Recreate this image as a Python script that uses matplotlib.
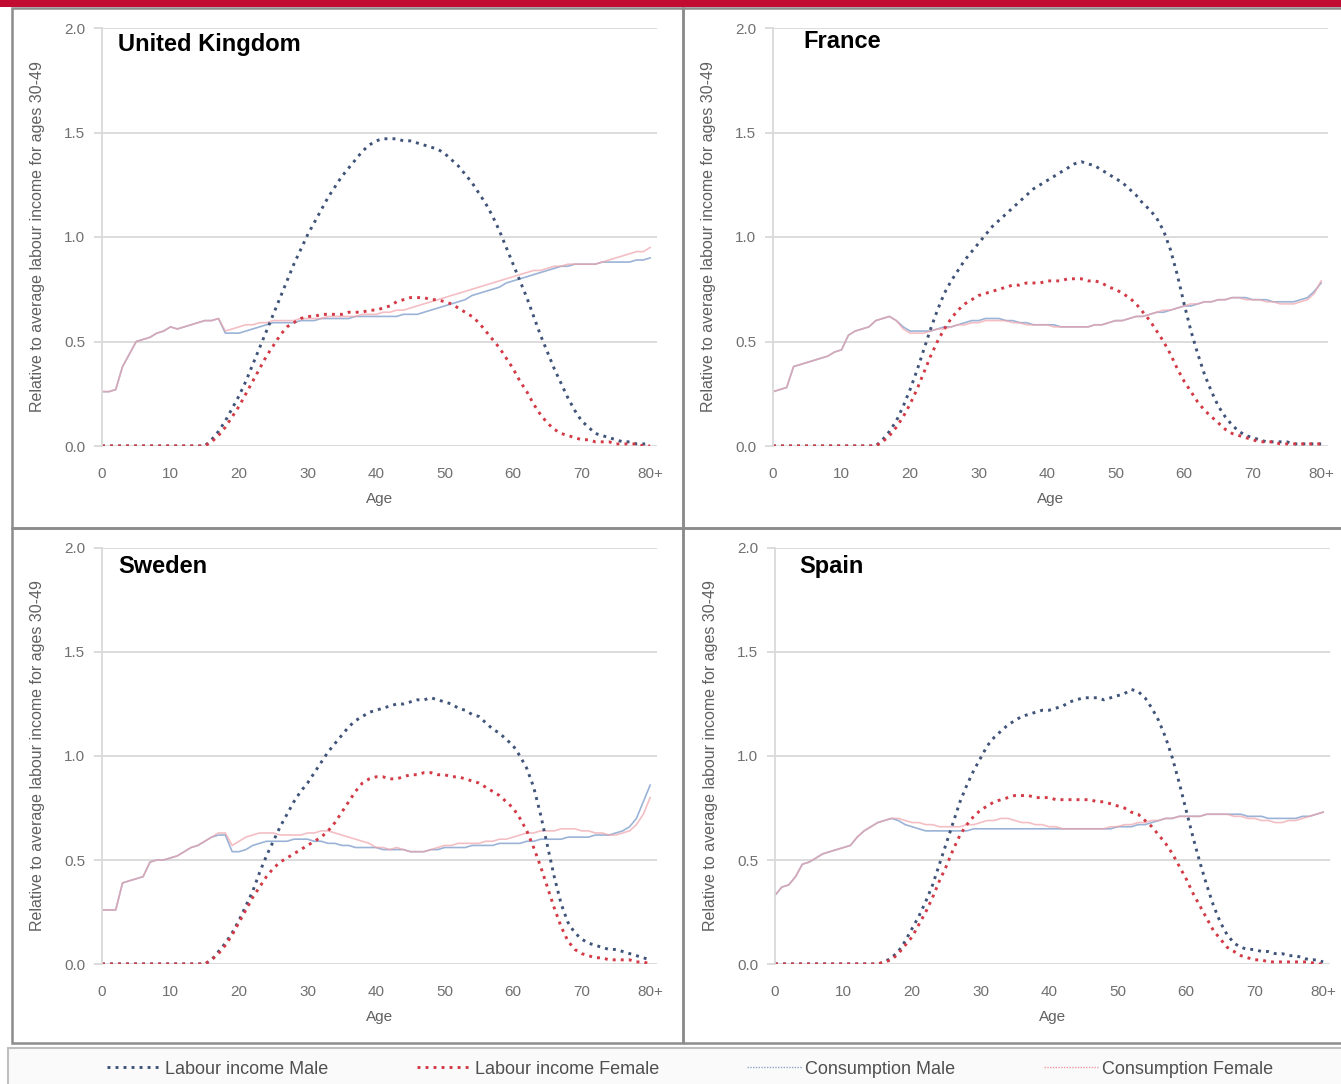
import matplotlib
matplotlib.use("Agg")
import matplotlib.pyplot as plt
from matplotlib.lines import Line2D
from matplotlib.patches import Rectangle

ages = list(range(0, 81))
x_tick_pos = [0, 10, 20, 30, 40, 50, 60, 70, 80]
x_tick_labels = ["0", "10", "20", "30", "40", "50", "60", "70", "80+"]
y_ticks = [0.0, 0.5, 1.0, 1.5, 2.0]
series_names = ["Labour income Male", "Labour income Female", "Consumption Male", "Consumption Female"]
countries = ["United Kingdom", "France", "Sweden", "Spain"]

zeros15 = [0.0] * 15

# ---------------- United Kingdom ----------------
uk_lab_m = zeros15 + [0.00, 0.03, 0.07, 0.12, 0.18, 0.24, 0.31, 0.39, 0.47, 0.55,
                      0.63, 0.71, 0.79, 0.87, 0.94, 1.01, 1.07, 1.13, 1.19, 1.24,
                      1.29, 1.33, 1.37, 1.41, 1.44, 1.46, 1.47, 1.47, 1.47, 1.46,
                      1.46, 1.45, 1.44, 1.43, 1.42, 1.40, 1.37, 1.34, 1.30, 1.26,
                      1.21, 1.16, 1.10, 1.03, 0.95, 0.87, 0.79, 0.71, 0.62, 0.53,
                      0.45, 0.37, 0.30, 0.23, 0.17, 0.12, 0.09, 0.06, 0.05, 0.04,
                      0.03, 0.02, 0.02, 0.01, 0.01, 0.01]
uk_lab_f = zeros15 + [0.00, 0.02, 0.05, 0.09, 0.14, 0.19, 0.25, 0.31, 0.37, 0.43,
                      0.48, 0.53, 0.57, 0.59, 0.61, 0.62, 0.62, 0.63, 0.63, 0.63,
                      0.63, 0.64, 0.64, 0.64, 0.65, 0.65, 0.66, 0.67, 0.69, 0.70,
                      0.71, 0.71, 0.71, 0.70, 0.70, 0.69, 0.68, 0.66, 0.64, 0.62,
                      0.59, 0.55, 0.51, 0.47, 0.42, 0.37, 0.31, 0.26, 0.20, 0.15,
                      0.11, 0.08, 0.06, 0.05, 0.04, 0.03, 0.03, 0.02, 0.02, 0.02,
                      0.01, 0.01, 0.01, 0.01, 0.00, 0.00]
uk_con_m = [0.26, 0.26, 0.27, 0.38, 0.44, 0.50, 0.51, 0.52, 0.54, 0.55,
            0.57, 0.56, 0.57, 0.58, 0.59, 0.60, 0.60, 0.61, 0.54, 0.54,
            0.54, 0.55, 0.56, 0.57, 0.58, 0.59, 0.59, 0.59, 0.59, 0.60,
            0.60, 0.60, 0.61, 0.61, 0.61, 0.61, 0.61, 0.62, 0.62, 0.62,
            0.62, 0.62, 0.62, 0.62, 0.63, 0.63, 0.63, 0.64, 0.65, 0.66,
            0.67, 0.68, 0.69, 0.70, 0.72, 0.73, 0.74, 0.75, 0.76, 0.78,
            0.79, 0.80, 0.81, 0.82, 0.83, 0.84, 0.85, 0.86, 0.86, 0.87,
            0.87, 0.87, 0.87, 0.88, 0.88, 0.88, 0.88, 0.88, 0.89, 0.89, 0.90]
uk_con_f = [0.26, 0.26, 0.27, 0.38, 0.44, 0.50, 0.51, 0.52, 0.54, 0.55,
            0.57, 0.56, 0.57, 0.58, 0.59, 0.60, 0.60, 0.61, 0.55, 0.56,
            0.57, 0.58, 0.58, 0.59, 0.59, 0.60, 0.60, 0.60, 0.60, 0.61,
            0.61, 0.61, 0.61, 0.62, 0.62, 0.62, 0.62, 0.62, 0.63, 0.63,
            0.63, 0.64, 0.64, 0.65, 0.65, 0.66, 0.67, 0.68, 0.69, 0.70,
            0.71, 0.72, 0.73, 0.74, 0.75, 0.76, 0.77, 0.78, 0.79, 0.80,
            0.81, 0.82, 0.83, 0.84, 0.84, 0.85, 0.86, 0.86, 0.87, 0.87,
            0.87, 0.87, 0.87, 0.88, 0.89, 0.90, 0.91, 0.92, 0.93, 0.93, 0.95]

# ---------------- France ----------------
fr_lab_m = zeros15 + [0.00, 0.03, 0.07, 0.12, 0.19, 0.27, 0.36, 0.46, 0.56, 0.65,
                      0.73, 0.79, 0.84, 0.89, 0.93, 0.97, 1.01, 1.05, 1.08, 1.11,
                      1.14, 1.17, 1.20, 1.23, 1.25, 1.27, 1.29, 1.31, 1.33, 1.35,
                      1.36, 1.35, 1.34, 1.32, 1.30, 1.28, 1.26, 1.23, 1.20, 1.16,
                      1.13, 1.09, 1.03, 0.94, 0.82, 0.68, 0.55, 0.44, 0.34, 0.26,
                      0.19, 0.14, 0.10, 0.07, 0.05, 0.04, 0.03, 0.02, 0.02, 0.02,
                      0.02, 0.01, 0.01, 0.01, 0.01, 0.01]
fr_lab_f = zeros15 + [0.00, 0.02, 0.05, 0.09, 0.14, 0.20, 0.27, 0.35, 0.43, 0.50,
                      0.56, 0.61, 0.65, 0.68, 0.70, 0.72, 0.73, 0.74, 0.75, 0.76,
                      0.77, 0.77, 0.78, 0.78, 0.78, 0.79, 0.79, 0.79, 0.80, 0.80,
                      0.80, 0.79, 0.79, 0.78, 0.76, 0.75, 0.73, 0.71, 0.68, 0.64,
                      0.60, 0.55, 0.50, 0.44, 0.37, 0.31, 0.26, 0.21, 0.17, 0.14,
                      0.11, 0.08, 0.06, 0.05, 0.04, 0.03, 0.02, 0.02, 0.02, 0.01,
                      0.01, 0.01, 0.01, 0.01, 0.01, 0.01]
fr_con_m = [0.26, 0.27, 0.28, 0.38, 0.39, 0.40, 0.41, 0.42, 0.43, 0.45,
            0.46, 0.53, 0.55, 0.56, 0.57, 0.60, 0.61, 0.62, 0.60, 0.57,
            0.55, 0.55, 0.55, 0.55, 0.56, 0.57, 0.57, 0.58, 0.59, 0.60,
            0.60, 0.61, 0.61, 0.61, 0.60, 0.60, 0.59, 0.59, 0.58, 0.58,
            0.58, 0.58, 0.57, 0.57, 0.57, 0.57, 0.57, 0.58, 0.58, 0.59,
            0.60, 0.60, 0.61, 0.62, 0.62, 0.63, 0.64, 0.64, 0.65, 0.66,
            0.67, 0.67, 0.68, 0.69, 0.69, 0.70, 0.70, 0.71, 0.71, 0.71,
            0.70, 0.70, 0.70, 0.69, 0.69, 0.69, 0.69, 0.70, 0.71, 0.74, 0.78]
fr_con_f = [0.26, 0.27, 0.28, 0.38, 0.39, 0.40, 0.41, 0.42, 0.43, 0.45,
            0.46, 0.53, 0.55, 0.56, 0.57, 0.60, 0.61, 0.62, 0.60, 0.56,
            0.54, 0.54, 0.54, 0.55, 0.56, 0.56, 0.57, 0.58, 0.58, 0.59,
            0.59, 0.60, 0.60, 0.60, 0.60, 0.59, 0.59, 0.58, 0.58, 0.58,
            0.58, 0.57, 0.57, 0.57, 0.57, 0.57, 0.57, 0.58, 0.58, 0.59,
            0.60, 0.60, 0.61, 0.62, 0.62, 0.63, 0.64, 0.65, 0.65, 0.66,
            0.67, 0.68, 0.68, 0.69, 0.69, 0.70, 0.70, 0.71, 0.71, 0.70,
            0.70, 0.70, 0.69, 0.69, 0.68, 0.68, 0.68, 0.69, 0.70, 0.73, 0.79]

# ---------------- Sweden ----------------
se_lab_m = zeros15 + [0.00, 0.02, 0.06, 0.10, 0.15, 0.21, 0.28, 0.35, 0.44, 0.52,
                      0.59, 0.66, 0.72, 0.78, 0.83, 0.87, 0.92, 0.97, 1.02, 1.06,
                      1.10, 1.14, 1.17, 1.19, 1.21, 1.22, 1.23, 1.24, 1.25, 1.25,
                      1.26, 1.27, 1.27, 1.28, 1.27, 1.26, 1.25, 1.23, 1.22, 1.20,
                      1.19, 1.16, 1.13, 1.11, 1.08, 1.05, 1.00, 0.94, 0.85, 0.72,
                      0.57, 0.42, 0.29, 0.20, 0.15, 0.12, 0.10, 0.09, 0.08, 0.07,
                      0.07, 0.06, 0.05, 0.04, 0.03, 0.02]
se_lab_f = zeros15 + [0.00, 0.02, 0.05, 0.09, 0.14, 0.20, 0.26, 0.32, 0.37, 0.42,
                      0.46, 0.49, 0.51, 0.53, 0.55, 0.57, 0.59, 0.61, 0.64, 0.68,
                      0.73, 0.78, 0.83, 0.87, 0.89, 0.90, 0.90, 0.89, 0.89, 0.90,
                      0.91, 0.91, 0.92, 0.92, 0.91, 0.91, 0.90, 0.90, 0.89, 0.88,
                      0.87, 0.85, 0.83, 0.81, 0.78, 0.75, 0.70, 0.64, 0.56, 0.47,
                      0.37, 0.27, 0.18, 0.11, 0.07, 0.05, 0.04, 0.03, 0.03, 0.02,
                      0.02, 0.02, 0.02, 0.01, 0.01, 0.00]
se_con_m = [0.26, 0.26, 0.26, 0.39, 0.40, 0.41, 0.42, 0.49, 0.50, 0.50,
            0.51, 0.52, 0.54, 0.56, 0.57, 0.59, 0.61, 0.62, 0.62, 0.54,
            0.54, 0.55, 0.57, 0.58, 0.59, 0.59, 0.59, 0.59, 0.60, 0.60,
            0.60, 0.59, 0.59, 0.58, 0.58, 0.57, 0.57, 0.56, 0.56, 0.56,
            0.56, 0.55, 0.55, 0.55, 0.55, 0.54, 0.54, 0.54, 0.55, 0.55,
            0.56, 0.56, 0.56, 0.56, 0.57, 0.57, 0.57, 0.57, 0.58, 0.58,
            0.58, 0.58, 0.59, 0.59, 0.60, 0.60, 0.60, 0.60, 0.61, 0.61,
            0.61, 0.61, 0.62, 0.62, 0.62, 0.63, 0.64, 0.66, 0.70, 0.78, 0.86]
se_con_f = [0.26, 0.26, 0.26, 0.39, 0.40, 0.41, 0.42, 0.49, 0.50, 0.50,
            0.51, 0.52, 0.54, 0.56, 0.57, 0.59, 0.61, 0.63, 0.63, 0.57,
            0.59, 0.61, 0.62, 0.63, 0.63, 0.63, 0.62, 0.62, 0.62, 0.62,
            0.63, 0.63, 0.64, 0.64, 0.63, 0.62, 0.61, 0.60, 0.59, 0.58,
            0.56, 0.56, 0.55, 0.56, 0.55, 0.54, 0.54, 0.54, 0.55, 0.56,
            0.57, 0.57, 0.58, 0.58, 0.58, 0.58, 0.59, 0.59, 0.60, 0.60,
            0.61, 0.62, 0.63, 0.63, 0.64, 0.64, 0.64, 0.65, 0.65, 0.65,
            0.64, 0.64, 0.63, 0.63, 0.62, 0.62, 0.63, 0.64, 0.67, 0.72, 0.80]

# ---------------- Spain ----------------
es_lab_m = zeros15 + [0.00, 0.01, 0.03, 0.06, 0.11, 0.17, 0.23, 0.30, 0.38, 0.48,
                      0.58, 0.68, 0.78, 0.86, 0.93, 0.99, 1.05, 1.09, 1.12, 1.15,
                      1.17, 1.19, 1.20, 1.21, 1.22, 1.22, 1.23, 1.24, 1.26, 1.27,
                      1.28, 1.28, 1.28, 1.27, 1.28, 1.29, 1.30, 1.32, 1.31, 1.28,
                      1.23, 1.17, 1.09, 0.99, 0.87, 0.74, 0.61, 0.49, 0.38, 0.28,
                      0.20, 0.14, 0.10, 0.08, 0.07, 0.07, 0.06, 0.06, 0.05, 0.05,
                      0.04, 0.04, 0.03, 0.02, 0.02, 0.01]
es_lab_f = zeros15 + [0.00, 0.01, 0.02, 0.05, 0.09, 0.13, 0.19, 0.25, 0.32, 0.40,
                      0.47, 0.55, 0.62, 0.67, 0.71, 0.74, 0.76, 0.78, 0.79, 0.80,
                      0.81, 0.81, 0.81, 0.80, 0.80, 0.80, 0.79, 0.79, 0.79, 0.79,
                      0.79, 0.79, 0.78, 0.78, 0.77, 0.76, 0.75, 0.73, 0.72, 0.69,
                      0.66, 0.62, 0.58, 0.53, 0.47, 0.41, 0.34, 0.28, 0.22, 0.16,
                      0.12, 0.08, 0.06, 0.04, 0.03, 0.02, 0.02, 0.01, 0.01, 0.01,
                      0.01, 0.01, 0.01, 0.01, 0.00, 0.00]
es_con_m = [0.33, 0.37, 0.38, 0.42, 0.48, 0.49, 0.51, 0.53, 0.54, 0.55,
            0.56, 0.57, 0.61, 0.64, 0.66, 0.68, 0.69, 0.70, 0.69, 0.67,
            0.66, 0.65, 0.64, 0.64, 0.64, 0.64, 0.64, 0.64, 0.64, 0.65,
            0.65, 0.65, 0.65, 0.65, 0.65, 0.65, 0.65, 0.65, 0.65, 0.65,
            0.65, 0.65, 0.65, 0.65, 0.65, 0.65, 0.65, 0.65, 0.65, 0.65,
            0.66, 0.66, 0.66, 0.67, 0.67, 0.68, 0.69, 0.70, 0.70, 0.71,
            0.71, 0.71, 0.71, 0.72, 0.72, 0.72, 0.72, 0.72, 0.72, 0.71,
            0.71, 0.71, 0.70, 0.70, 0.70, 0.70, 0.70, 0.71, 0.71, 0.72, 0.73]
es_con_f = [0.33, 0.37, 0.38, 0.42, 0.48, 0.49, 0.51, 0.53, 0.54, 0.55,
            0.56, 0.57, 0.61, 0.64, 0.66, 0.68, 0.69, 0.70, 0.70, 0.69,
            0.68, 0.68, 0.67, 0.67, 0.66, 0.66, 0.66, 0.66, 0.67, 0.67,
            0.68, 0.69, 0.69, 0.70, 0.70, 0.69, 0.68, 0.68, 0.67, 0.67,
            0.66, 0.66, 0.65, 0.65, 0.65, 0.65, 0.65, 0.65, 0.65, 0.66,
            0.66, 0.67, 0.67, 0.68, 0.68, 0.69, 0.69, 0.70, 0.70, 0.71,
            0.71, 0.71, 0.71, 0.72, 0.72, 0.72, 0.72, 0.71, 0.71, 0.70,
            0.70, 0.69, 0.69, 0.68, 0.68, 0.69, 0.69, 0.70, 0.71, 0.72, 0.73]

data = {
    "United Kingdom": [uk_lab_m, uk_lab_f, uk_con_m, uk_con_f],
    "France": [fr_lab_m, fr_lab_f, fr_con_m, fr_con_f],
    "Sweden": [se_lab_m, se_lab_f, se_con_m, se_con_f],
    "Spain": [es_lab_m, es_lab_f, es_con_m, es_con_f],
}

# ---------------- styling ----------------
plt.rcParams['font.family'] = ['Liberation Sans', 'DejaVu Sans']
W, H = 1341, 1084
fig = plt.figure(figsize=(W / 100, H / 100), dpi=100)

col_lab_m = "#3F5478"
col_lab_f = "#D23A46"
col_con_m = "#9AB3D6"
col_con_f = "#EFA3AB"
grid_col = "#D9D9D9"
tick_col = "#707070"
lab_col = "#606060"

dot_style = (0, (1.0, 1.75))

# axes placement in pixels: (left, top, right, bottom)
boxes = {
    "United Kingdom": (102, 28, 657, 446),
    "France": (773, 28, 1328, 446),
    "Sweden": (102, 548, 657, 964),
    "Spain": (775, 548, 1330, 964),
}
title_pos = {
    "United Kingdom": (118, 45),
    "France": (803, 41),
    "Sweden": (118, 567),
    "Spain": (799, 567),
}
ylabel_x = {"United Kingdom": 38, "France": 708, "Sweden": 38, "Spain": 710}

for c in countries:
    l, t, r, b = boxes[c]
    ax = fig.add_axes([l / W, 1 - b / H, (r - l) / W, (b - t) / H])
    lm, lf, cm, cf = data[c]
    ax.plot(ages, cm, color=col_con_m, lw=1.2, label=series_names[2])
    ax.plot(ages, cf, color=col_con_f, lw=1.2, alpha=0.7, label=series_names[3])
    ax.plot(ages, lm, color=col_lab_m, lw=2.1, linestyle=dot_style, label=series_names[0])
    ax.plot(ages, lf, color=col_lab_f, lw=2.1, linestyle=dot_style, label=series_names[1])
    ax.set_xlim(0, 81)
    ax.set_ylim(0, 2.0)
    ax.set_yticks(y_ticks)
    ax.set_yticklabels([f"{v:.1f}" for v in y_ticks])
    ax.set_xticks(x_tick_pos)
    ax.set_xticklabels(x_tick_labels)
    ax.grid(axis='y', color=grid_col, lw=1.3)
    ax.set_axisbelow(True)
    for s in ["top", "right", "bottom"]:
        ax.spines[s].set_visible(False)
    ax.spines["left"].set_color(grid_col)
    ax.spines["left"].set_linewidth(1.3)
    ax.tick_params(axis='y', length=6, color=grid_col, width=1.3, labelsize=11,
                   labelcolor=tick_col, pad=6)
    ax.tick_params(axis='x', length=0, labelsize=11, labelcolor=tick_col, pad=15)
    ax.set_xlabel("Age", fontsize=11, color=lab_col, labelpad=8)
    ax.set_ylabel("Relative to average labour income for ages 30-49", fontsize=11.5,
                  color=lab_col, va='center')
    ax.yaxis.set_label_coords((ylabel_x[c] - l) / (r - l), 0.5)
    tx, ty = title_pos[c]
    ax.text((tx - l) / (r - l), (b - ty) / (b - t), c, transform=ax.transAxes,
            fontsize=17, fontweight='bold', ha='left', va='center', color='black')

# ---------------- frame decorations ----------------
def frect(x0, y0, x1, y1, **kw):
    fig.patches.append(Rectangle((x0 / W, 1 - y1 / H), (x1 - x0) / W, (y1 - y0) / H,
                                 transform=fig.transFigure, **kw))

# red bar at top
frect(0, 0, W, 7, facecolor="#C20B33", edgecolor='none', zorder=5)
# panel borders
frect(12, 8, 683, 528, facecolor='none', edgecolor="#8C8C8C", lw=1.8, zorder=5)
frect(683, 8, W + 5, 528, facecolor='none', edgecolor="#8C8C8C", lw=1.8, zorder=5)
frect(12, 528, 683, 1043, facecolor='none', edgecolor="#8C8C8C", lw=1.8, zorder=5)
frect(683, 528, W + 5, 1043, facecolor='none', edgecolor="#8C8C8C", lw=1.8, zorder=5)
# legend box
frect(8, 1048, W + 5, H + 5, facecolor="#FAFAFA", edgecolor="#BFBFBF", lw=1.5, zorder=0)

# legend handles (consumption shown with fine dots, as in the source legend)
leg_handles = [
    Line2D([], [], color=col_lab_m, lw=2.1, linestyle=dot_style),
    Line2D([], [], color=col_lab_f, lw=2.1, linestyle=dot_style),
    Line2D([], [], color="#8FA6C8", lw=1.0, linestyle=(0, (1.0, 1.0))),
    Line2D([], [], color="#EE9AA3", lw=1.0, linestyle=(0, (1.0, 1.0))),
]
leg = fig.legend(handles=leg_handles, labels=series_names, loc='center',
                 bbox_to_anchor=(690 / W, 1 - 1069 / H), ncol=4, frameon=False,
                 fontsize=13, handlelength=3.0, handletextpad=0.2,
                 columnspacing=4.9)
for txt in leg.get_texts():
    txt.set_color("#505050")

fig.savefig("out.png", dpi=100)
